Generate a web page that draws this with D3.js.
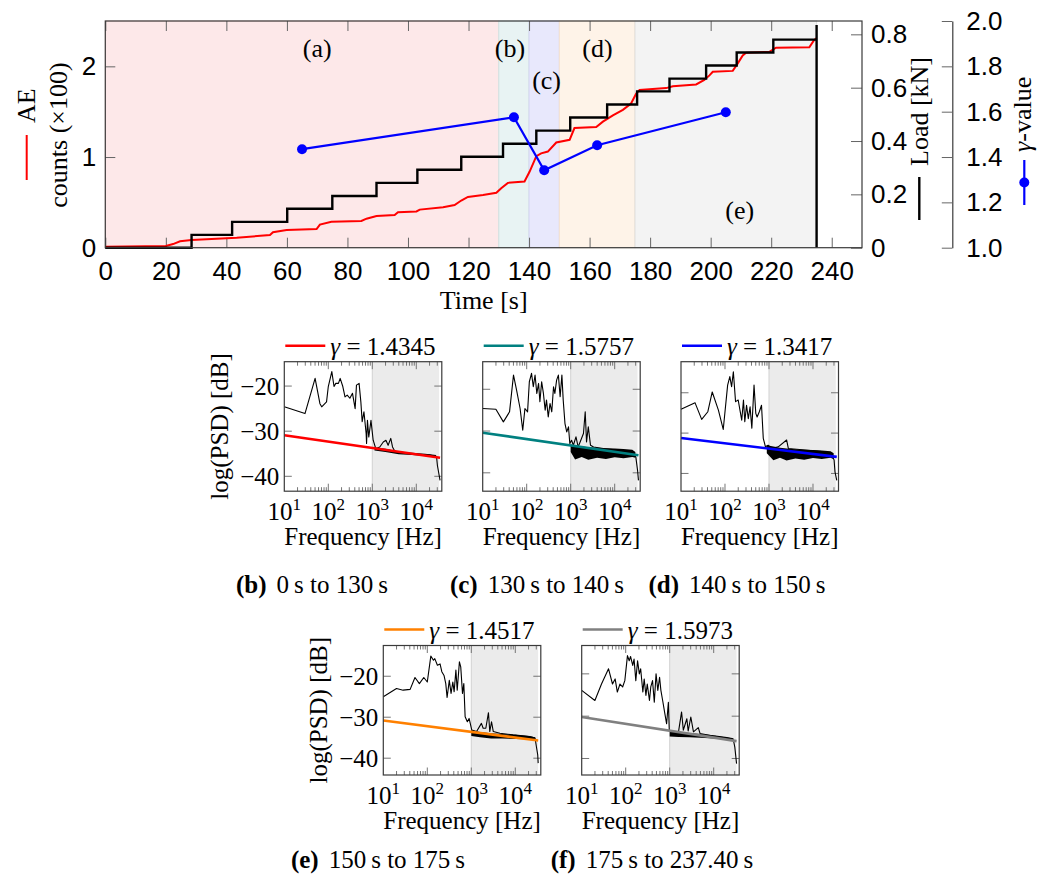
<!DOCTYPE html>
<html>
<head>
<meta charset="utf-8">
<script src="https://cdn.jsdelivr.net/npm/d3@7"></script>
<style>
  body { margin: 0; background: #fff; }
  svg { display: block; font-family: "Liberation Serif", "DejaVu Serif", serif; }
</style>
</head>
<body>
<svg id="chart" width="1053" height="884"></svg>
<script>
// ---------- top chart data ----------
const timeTicks = [0, 20, 40, 60, 80, 100, 120, 140, 160, 180, 200, 220, 240];
const aeTicks = [0, 1, 2];
const loadTicks = [0, 0.2, 0.4, 0.6, 0.8];
const gammaTicks = [1.0, 1.2, 1.4, 1.6, 1.8, 2.0];

// load steps [s] / [kN]
const loadTime = [0, 28.5, 41.9, 60.1, 75, 89.6, 103.1, 117.6, 131.4, 142.4, 153.6, 165.8, 175.7, 186.4, 198.5, 208.6, 220.7, 235, 235];
const loadKN = [0, 0.048, 0.097, 0.146, 0.194, 0.243, 0.292, 0.341, 0.39, 0.439, 0.488, 0.537, 0.586, 0.634, 0.683, 0.732, 0.78, 0.835, 0];

// cumulative AE counts (x100)
const aeTime = [0, 20, 22.4, 24.7, 28.5, 43.4, 54.4, 55.4, 59.9, 69.8, 70.9, 74.7, 84.6, 86.3, 89.6, 95.6, 96.7, 102.8, 103.9, 111.6, 115.4, 117.6, 119.8, 124.8, 129.2, 130.8, 133, 138.5, 140.2, 142.4, 144, 146.2, 149, 153.4, 155, 162.2, 164.4, 167.7, 171, 173.7, 175.4, 176.5, 185.3, 187.5, 195.2, 197.9, 199.6, 200.7, 207.3, 208.9, 210.6, 211.7, 219.4, 221.6, 232.6, 234.2, 235];
const aeCount = [0.01, 0.02, 0.04, 0.07, 0.085, 0.11, 0.14, 0.17, 0.195, 0.205, 0.255, 0.285, 0.295, 0.32, 0.35, 0.36, 0.39, 0.4, 0.42, 0.445, 0.47, 0.52, 0.56, 0.58, 0.605, 0.655, 0.715, 0.73, 0.84, 1.01, 1.04, 1.06, 1.16, 1.19, 1.32, 1.33, 1.39, 1.46, 1.52, 1.59, 1.7, 1.74, 1.76, 1.78, 1.8, 1.85, 1.9, 1.94, 1.95, 2.03, 2.12, 2.15, 2.16, 2.205, 2.21, 2.29, 2.31];

// gamma value per phase
const gammaTime = [65, 135, 145, 162.5, 205];
const gammaValue = [1.4345, 1.5757, 1.3417, 1.4517, 1.5973];

// phases
const phaseName = ["(a)", "(b)", "(c)", "(d)", "(e)"];
const phaseStart = [0, 130, 140, 150, 175];
const phaseEnd = [130, 140, 150, 175, 235];
const phaseLabelTime = [70, 133.7, 145.8, 162.6, 209.6];
const phaseLabelLevel = [2.2, 2.2, 1.85, 2.2, 0.41];

// ---------- PSD panels data: [log10 f, dB] ----------
const psdB = [[1.0,-24.6],[1.47,-26.1],[1.70,-18.3],[1.81,-23.9],[1.85,-24.6],[1.96,-23.5],[2.0,-20.1],[2.08,-16.8],[2.13,-20.1],[2.17,-19.4],[2.23,-19.4],[2.27,-18.3],[2.33,-20.1],[2.38,-22.4],[2.43,-22.0],[2.49,-22.7],[2.55,-21.6],[2.61,-25.0],[2.64,-19.8],[2.70,-19.4],[2.74,-23.5],[2.77,-27.9],[2.81,-25.7],[2.86,-30.5],[2.87,-32.7],[2.89,-27.6],[2.92,-31.3],[2.97,-27.6],[3.02,-32.0],[3.08,-33.9],[3.17,-33.5],[3.25,-32.4],[3.31,-32.0],[3.36,-33.1],[3.42,-31.6],[3.46,-33.5],[3.52,-34.6],[3.70,-34.8],[4.01,-35.1],[4.31,-35.3],[4.46,-35.6],[4.48,-37.6],[4.54,-40.9]];
const psdC = [[1.0,-24.6],[1.30,-24.8],[1.47,-27.8],[1.61,-25.4],[1.70,-16.6],[1.77,-20.2],[1.85,-24.6],[1.91,-29.8],[1.96,-24.6],[2.02,-25.4],[2.06,-18.2],[2.11,-16.2],[2.15,-19.4],[2.19,-16.6],[2.23,-21.0],[2.27,-18.6],[2.30,-23.0],[2.34,-18.2],[2.38,-21.0],[2.42,-25.0],[2.45,-22.6],[2.49,-26.6],[2.53,-23.4],[2.57,-25.4],[2.61,-19.4],[2.64,-21.0],[2.68,-17.8],[2.72,-16.6],[2.76,-21.8],[2.80,-16.6],[2.83,-22.6],[2.87,-28.2],[2.91,-30.2],[2.95,-29.0],[2.98,-33.0],[3.02,-32.2],[3.06,-33.4],[3.12,-31.4],[3.17,-33.8],[3.23,-32.2],[3.29,-30.6],[3.33,-25.4],[3.36,-32.6],[3.40,-29.0],[3.45,-33.4],[3.52,-33.8],[3.74,-34.2],[4.12,-34.6],[4.42,-35.0],[4.48,-36.2],[4.52,-39.4],[4.54,-41.8]];
const psdD = [[1.0,-24.1],[1.32,-22.5],[1.47,-26.6],[1.61,-24.7],[1.71,-19.8],[1.85,-24.3],[1.96,-29.1],[2.06,-18.1],[2.11,-16.0],[2.15,-18.5],[2.19,-14.8],[2.24,-22.2],[2.30,-21.8],[2.34,-24.3],[2.38,-26.8],[2.42,-21.8],[2.45,-27.2],[2.49,-23.1],[2.53,-26.4],[2.57,-23.5],[2.61,-28.8],[2.66,-18.1],[2.70,-25.1],[2.73,-26.0],[2.78,-24.7],[2.83,-23.1],[2.87,-31.3],[2.92,-33.4],[2.98,-33.0],[3.06,-33.8],[3.21,-33.4],[3.40,-31.7],[3.44,-33.8],[3.82,-34.2],[4.20,-34.6],[4.42,-35.0],[4.48,-36.7],[4.50,-39.6],[4.54,-41.7]];
const psdE = [[1.0,-25.0],[1.30,-23.0],[1.45,-23.4],[1.61,-23.2],[1.72,-20.3],[1.82,-21.8],[1.92,-20.3],[2.0,-21.4],[2.08,-15.1],[2.14,-16.1],[2.17,-15.7],[2.23,-17.3],[2.29,-17.0],[2.33,-18.9],[2.38,-19.8],[2.42,-21.8],[2.45,-25.2],[2.50,-21.0],[2.54,-24.2],[2.58,-21.4],[2.61,-23.8],[2.65,-18.5],[2.68,-23.4],[2.73,-16.5],[2.76,-17.7],[2.80,-24.2],[2.83,-21.8],[2.86,-29.9],[2.91,-31.1],[2.95,-30.3],[3.01,-33.1],[3.12,-33.5],[3.23,-31.5],[3.27,-32.7],[3.33,-32.7],[3.39,-28.9],[3.42,-33.5],[3.46,-31.1],[3.50,-33.5],[3.65,-33.9],[3.95,-34.3],[4.33,-34.7],[4.45,-35.1],[4.48,-37.2],[4.51,-39.2],[4.52,-41.2]];
const psdF = [[1.0,-23.9],[1.30,-26.3],[1.45,-22.4],[1.61,-18.8],[1.70,-22.4],[1.76,-21.2],[1.81,-24.3],[1.87,-22.4],[1.93,-23.1],[1.98,-21.6],[2.04,-15.7],[2.08,-16.9],[2.11,-15.9],[2.16,-18.0],[2.19,-16.5],[2.23,-21.6],[2.27,-16.9],[2.31,-20.0],[2.34,-18.8],[2.39,-24.3],[2.42,-21.2],[2.46,-25.1],[2.49,-22.4],[2.54,-26.3],[2.57,-23.1],[2.61,-21.6],[2.65,-26.7],[2.69,-20.0],[2.73,-23.9],[2.77,-20.8],[2.80,-23.9],[2.84,-26.3],[2.89,-29.4],[2.93,-31.8],[2.97,-26.7],[2.99,-33.3],[3.05,-34.1],[3.20,-33.7],[3.27,-29.0],[3.31,-33.3],[3.39,-30.6],[3.42,-33.5],[3.48,-30.2],[3.54,-33.7],[3.65,-32.7],[3.69,-34.1],[3.99,-34.7],[4.37,-35.3],[4.45,-35.7],[4.48,-37.3],[4.52,-41.2]];

// dense noise band above 1 kHz: [log10 f, low dB, high dB]
const bandB = [[3.05,-34.3,-33.6],[3.3,-34.6,-33.9],[3.6,-35.1,-34.5],[3.9,-35.3,-34.8],[4.2,-35.5,-35.0],[4.45,-35.8,-35.3]];
const bandC = [[3.0,-35.0,-33.2],[3.1,-36.8,-33.5],[3.25,-36.2,-33.7],[3.4,-36.9,-33.9],[3.6,-36.4,-34.0],[3.8,-36.7,-34.1],[4.0,-36.3,-34.2],[4.2,-36.5,-34.3],[4.4,-36.2,-34.5],[4.47,-36.4,-35.0]];
const bandD = [[2.95,-35.0,-33.0],[3.1,-36.7,-33.3],[3.25,-36.1,-33.6],[3.4,-36.8,-33.8],[3.6,-36.3,-34.0],[3.8,-36.6,-34.1],[4.0,-36.2,-34.2],[4.2,-36.4,-34.3],[4.4,-36.1,-34.5],[4.47,-36.5,-35.0]];
const bandE = [[3.0,-34.6,-33.2],[3.2,-34.9,-33.6],[3.45,-35.2,-33.9],[3.7,-35.2,-34.1],[4.0,-35.3,-34.3],[4.3,-35.4,-34.6],[4.45,-35.7,-34.9]];
const bandF = [[3.0,-34.8,-33.5],[3.2,-34.9,-33.8],[3.45,-35.0,-34.0],[3.7,-35.1,-34.2],[4.0,-35.3,-34.5],[4.3,-35.5,-34.9],[4.45,-35.8,-35.2]];

// fitted line end points [log10 f, dB]
const fitB = [[1.0,-30.9],[4.54,-35.9]];
const fitC = [[1.0,-30.4],[4.54,-35.8]];
const fitD = [[1.0,-31.2],[4.54,-35.9]];
const fitE = [[1.0,-30.8],[4.52,-35.7]];
const fitF = [[1.0,-30.2],[4.52,-35.9]];

const dbTicks = [-20, -30, -40];
const decadeTicks = [10, 100, 1000, 10000];

// ---------- styles ----------
const phaseFill = ["#fde8e9", "#e8f3f3", "#e8e8fc", "#fef3e8", "#f3f3f3"];
const phaseEdge = ["#f6d0d2", "#cfe3e3", "#d4d4f2", "#f4e1cf", "#dedede"];
const fitColor = ["#ff0000", "#008080", "#0000ff", "#ff8000", "#808080"];
const frameColor = "#3a3a3a";
const tickColor = "#666";

const svg = d3.select("#chart");

// ================= top chart =================
const L = 105.3, R = 862, T = 21, B = 247.7;
const x = d3.scaleLinear().domain([0, 250]).range([L, R]);
const yAE = d3.scaleLinear().domain([0, 2.5]).range([B, T]);
const yLoad = d3.scaleLinear().domain([0, 0.85]).range([B, T]);
const yG = d3.scaleLinear().domain([1, 2]).range([B, T]);

const main = svg.append("g").style("font-size", "26px");

main.selectAll("rect.phase")
    .data(phaseStart)
    .enter()
    .append("rect")
    .attr("class", "phase")
    .attr("x", (d) => x(d))
    .attr("y", T)
    .attr("width", (d, i) => x(phaseEnd[i]) - x(d))
    .attr("height", B - T)
    .attr("fill", (d, i) => phaseFill[i])
    .attr("stroke", (d, i) => phaseEdge[i])
    .attr("stroke-width", 1);

// axes (ticks inward)
const styleAxis = (g) => {
    g.selectAll(".tick line").attr("stroke", tickColor).attr("stroke-width", 1);
    g.selectAll("text").attr("fill", "#000").style("font-size", "26px").style("font-family", "inherit");
};
main.append("g")
    .attr("transform", `translate(0,${B})`)
    .call(d3.axisBottom(x).tickValues(timeTicks).tickSize(-10).tickSizeOuter(0).tickPadding(14))
    .call((g) => g.select(".domain").remove())
    .call(styleAxis);
main.append("g")
    .attr("transform", `translate(0,${T})`)
    .call(d3.axisTop(x).tickValues(timeTicks).tickSize(-10).tickSizeOuter(0).tickFormat(""))
    .call((g) => g.select(".domain").remove())
    .call(styleAxis);
main.append("g")
    .attr("transform", `translate(${L},0)`)
    .call(d3.axisLeft(yAE).tickValues(aeTicks).tickSize(-10).tickSizeOuter(0).tickPadding(9).tickFormat(d3.format("d")))
    .call((g) => g.select(".domain").remove())
    .call(styleAxis);
main.append("g")
    .attr("transform", `translate(${R},0)`)
    .call(d3.axisRight(yLoad).tickValues(loadTicks).tickSize(-11).tickSizeOuter(0).tickPadding(9)
        .tickFormat((d) => (d === 0 ? "0" : d3.format(".1f")(d))))
    .call((g) => g.select(".domain").remove())
    .call(styleAxis);
main.append("g")
    .attr("transform", `translate(952.3,0)`)
    .call(d3.axisRight(yG).tickValues(gammaTicks).tickSize(-10.5).tickSizeOuter(0).tickPadding(14).tickFormat(d3.format(".1f")))
    .call((g) => g.select(".domain").attr("stroke", frameColor).attr("stroke-width", 1.2))
    .call(styleAxis);

// AE counts
main.append("path")
    .datum(aeTime)
    .attr("fill", "none")
    .attr("stroke", "#ff0000")
    .attr("stroke-width", 2)
    .attr("d", d3.line().x((d) => x(d)).y((d, i) => yAE(aeCount[i])));

// load
main.append("path")
    .datum(loadTime)
    .attr("fill", "none")
    .attr("stroke", "#000")
    .attr("stroke-width", 2.4)
    .attr("d", d3.line().curve(d3.curveStepAfter).x((d) => x(d)).y((d, i) => yLoad(loadKN[i])));

// gamma
main.append("path")
    .datum(gammaTime)
    .attr("fill", "none")
    .attr("stroke", "#0000ff")
    .attr("stroke-width", 2.2)
    .attr("d", d3.line().x((d) => x(d)).y((d, i) => yG(gammaValue[i])));
main.selectAll("circle.g")
    .data(gammaTime)
    .enter()
    .append("circle")
    .attr("class", "g")
    .attr("cx", (d) => x(d))
    .attr("cy", (d, i) => yG(gammaValue[i]))
    .attr("r", 5)
    .attr("fill", "#0000ff");

// phase labels
main.selectAll("text.phase")
    .data(phaseName)
    .enter()
    .append("text")
    .attr("class", "phase")
    .attr("x", (d, i) => x(phaseLabelTime[i]))
    .attr("y", (d, i) => yAE(phaseLabelLevel[i]))
    .attr("dy", "0.33em")
    .attr("text-anchor", "middle")
    .text((d) => d);

// frame
main.append("rect")
    .attr("x", L).attr("y", T).attr("width", R - L).attr("height", B - T)
    .attr("fill", "none").attr("stroke", frameColor).attr("stroke-width", 1.2);

// axis titles
main.append("text").attr("x", (L + R) / 2).attr("y", 309).attr("text-anchor", "middle").text("Time [s]");

const aeLab = main.append("g").attr("transform", "translate(35,135) rotate(-90)");
aeLab.append("line").attr("x1", -45).attr("x2", 0).attr("y1", -8.3).attr("y2", -8.3).attr("stroke", "#ff0000").attr("stroke-width", 2);
aeLab.append("text").attr("x", 12).text("AE");
main.append("g").attr("transform", "translate(67,135) rotate(-90)")
    .append("text").attr("text-anchor", "middle").text("counts (×100)");

const loadLab = main.append("g").attr("transform", "translate(928,135) rotate(-90)");
loadLab.append("line").attr("x1", -85).attr("x2", -42).attr("y1", -8.7).attr("y2", -8.7).attr("stroke", "#000").attr("stroke-width", 2.4);
loadLab.append("text").attr("x", -31).text("Load [kN]");

const gLab = main.append("g").attr("transform", "translate(1031,135) rotate(-90)");
gLab.append("line").attr("x1", -70).attr("x2", -25).attr("y1", -6.7).attr("y2", -6.7).attr("stroke", "#0000ff").attr("stroke-width", 2.2);
gLab.append("circle").attr("cx", -47.5).attr("cy", -6.7).attr("r", 5).attr("fill", "#0000ff");
const gt = gLab.append("text").attr("x", -17);
gt.append("tspan").style("font-style", "italic").text("γ");
gt.append("tspan").text("-value");

// ================= PSD panels =================
const PW = 157.5, PH = 129.5;
const freqDomain = [10, 38000];
const shadeFrom = 1000, shadeTo = 33000;

const panels = [
    { psd: psdB, band: bandB, fit: fitB, left: 284.3, top: 361.7, yDomain: [-43.3, -14.6], yLabels: true, cap: "(b)", capText: "0\u2009s to 130\u2009s", capX: 312, capY: 593 },
    { psd: psdC, band: bandC, fit: fitC, left: 482.7, top: 361.7, yDomain: [-44.4, -13.4], yLabels: false, cap: "(c)", capText: "130\u2009s to 140\u2009s", capX: 537, capY: 593 },
    { psd: psdD, band: bandD, fit: fitD, left: 681, top: 361.7, yDomain: [-44.4, -12.3], yLabels: false, cap: "(d)", capText: "140\u2009s to 150\u2009s", capX: 737, capY: 593 },
    { psd: psdE, band: bandE, fit: fitE, left: 383.3, top: 645.5, yDomain: [-44.1, -12.5], yLabels: true, cap: "(e)", capText: "150\u2009s to 175\u2009s", capX: 378, capY: 868 },
    { psd: psdF, band: bandF, fit: fitF, left: 581.7, top: 645.5, yDomain: [-43.9, -13.3], yLabels: false, cap: "(f)", capText: "175\u2009s to 237.40\u2009s", capX: 652, capY: 868 }
];

panels.forEach((p, k) => {
    const g = svg.append("g").attr("transform", `translate(${p.left},${p.top})`).style("font-size", "25px");
    const xs = d3.scaleLog().domain(freqDomain).range([0, PW]);
    const ys = d3.scaleLinear().domain(p.yDomain).range([PH, 0]);
    const fx = (lf) => xs(Math.pow(10, lf));

    g.append("rect")
        .attr("x", xs(shadeFrom)).attr("y", 0)
        .attr("width", xs(shadeTo) - xs(shadeFrom)).attr("height", PH)
        .attr("fill", "#ebebeb");
    g.append("line")
        .attr("x1", xs(shadeFrom)).attr("x2", xs(shadeFrom)).attr("y1", 0).attr("y2", PH)
        .attr("stroke", "#d2d2d2").attr("stroke-width", 1);

    // ticks (inward, top/bottom and left/right)
    const minor = xs.ticks().filter((t) => !decadeTicks.includes(t));
    const tg = g.append("g").attr("stroke", tickColor).attr("stroke-width", 0.9);
    [0, PH].forEach((yy) => {
        const dir = yy === 0 ? 1 : -1;
        tg.selectAll(null).data(minor).enter().append("line")
            .attr("x1", (d) => xs(d)).attr("x2", (d) => xs(d))
            .attr("y1", yy).attr("y2", yy + dir * 4);
        tg.selectAll(null).data(decadeTicks.slice(1)).enter().append("line")
            .attr("x1", (d) => xs(d)).attr("x2", (d) => xs(d))
            .attr("y1", yy).attr("y2", yy + dir * 7.5);
    });
    [0, PW].forEach((xx) => {
        const dir = xx === 0 ? 1 : -1;
        tg.selectAll(null).data(dbTicks).enter().append("line")
            .attr("x1", xx).attr("x2", xx + dir * 7.5)
            .attr("y1", (d) => ys(d)).attr("y2", (d) => ys(d));
    });

    // noise band + trace
    g.append("path")
        .datum(p.band)
        .attr("fill", "#000")
        .attr("d", d3.area().x((d) => fx(d[0])).y0((d) => ys(d[1])).y1((d) => ys(d[2])));
    g.append("path")
        .datum(p.psd)
        .attr("fill", "none")
        .attr("stroke", "#000")
        .attr("stroke-width", 1.1)
        .attr("stroke-linejoin", "round")
        .attr("d", d3.line().x((d) => fx(d[0])).y((d) => ys(d[1])));

    // fitted line
    g.append("path")
        .datum(p.fit)
        .attr("fill", "none")
        .attr("stroke", fitColor[k])
        .attr("stroke-width", 2.6)
        .attr("d", d3.line().x((d) => fx(d[0])).y((d) => ys(d[1])));

    g.append("rect")
        .attr("width", PW).attr("height", PH)
        .attr("fill", "none").attr("stroke", frameColor).attr("stroke-width", 1.2);

    // x tick labels 10^n
    const xl = g.selectAll("text.xt").data(decadeTicks).enter().append("text")
        .attr("class", "xt")
        .attr("x", (d) => xs(d))
        .attr("y", PH + 29)
        .attr("text-anchor", "middle");
    xl.append("tspan").text("10");
    xl.append("tspan").attr("dy", -10).style("font-size", "17px").text((d) => Math.round(Math.log10(d)));

    g.append("text").attr("x", PW / 2).attr("y", PH + 54).attr("text-anchor", "middle").text("Frequency [Hz]");

    if (p.yLabels) {
        g.selectAll("text.yt").data(dbTicks).enter().append("text")
            .attr("class", "yt")
            .attr("x", -5)
            .attr("y", (d) => ys(d))
            .attr("dy", "0.34em")
            .attr("text-anchor", "end")
            .text((d) => "\u2212" + Math.abs(d));
        g.append("text")
            .attr("transform", `translate(-56,${PH / 2}) rotate(-90)`)
            .attr("text-anchor", "middle")
            .text("log(PSD) [dB]");
    }

    // legend
    g.append("line").attr("x1", 1).attr("x2", 41).attr("y1", -16).attr("y2", -16)
        .attr("stroke", fitColor[k]).attr("stroke-width", 2.6);
    const lt = g.append("text").attr("x", 46).attr("y", -7);
    lt.append("tspan").style("font-style", "italic").text("γ");
    lt.append("tspan").text(" = " + gammaValue[k].toFixed(4));

    // caption
    const c = svg.append("text").attr("x", p.capX).attr("y", p.capY).attr("text-anchor", "middle").style("font-size", "25px");
    c.append("tspan").style("font-weight", "bold").text(p.cap);
    c.append("tspan").attr("dx", 10).text(p.capText);
});
</script>
</body>
</html>
